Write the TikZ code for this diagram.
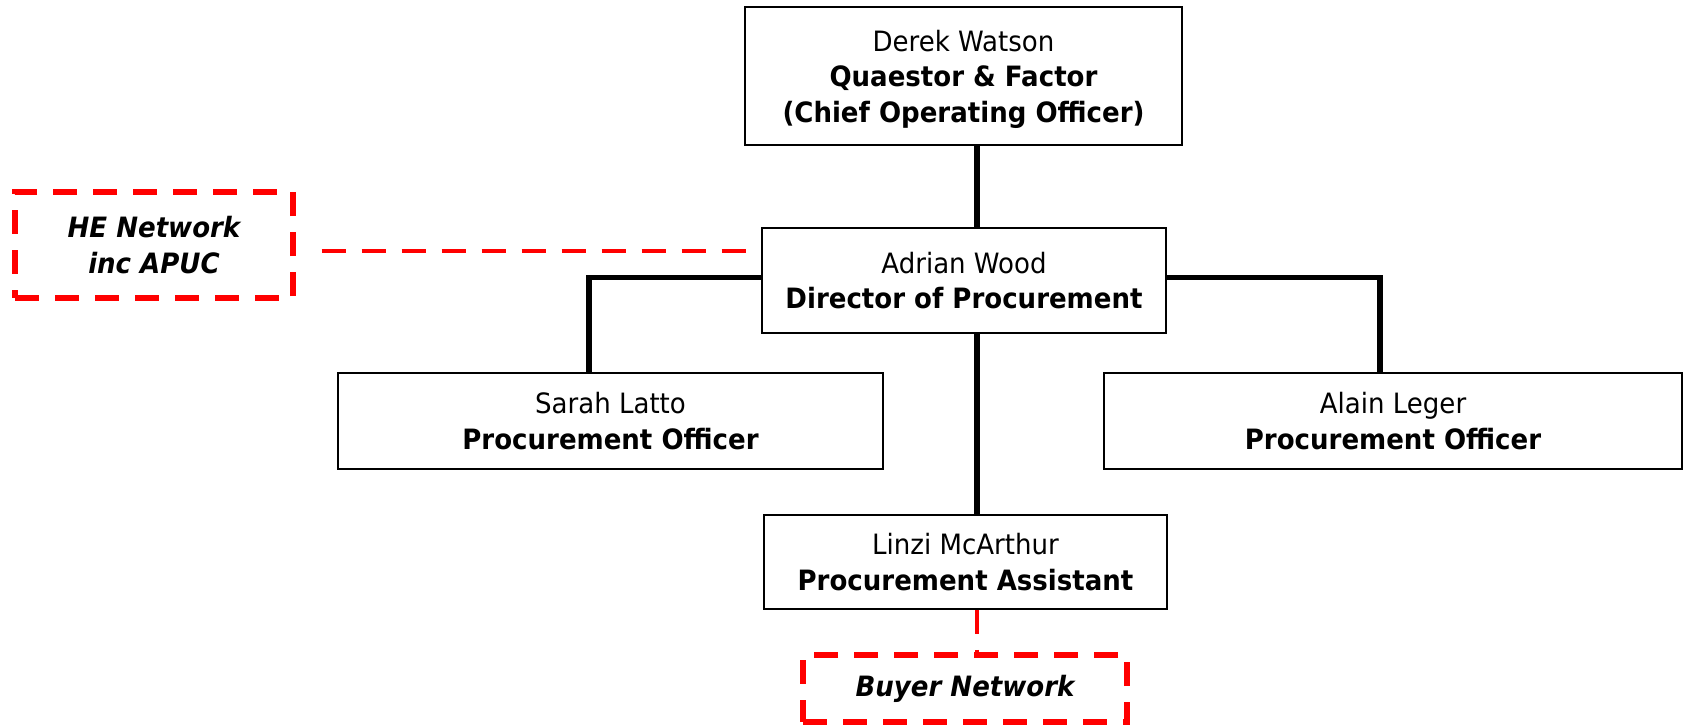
\documentclass[tikz,border=0pt]{standalone}
\usepackage{fontspec}
\setmainfont[FakeStretch=0.93]{DejaVu Sans}
\begin{document}
\begin{tikzpicture}[x=0.75pt,y=-0.75pt,
  post/.style={draw=black,line width=1.4pt,fill=white,align=center,inner sep=0pt,
    font=\fontsize{21}{26.6}\selectfont},
  netbox/.style={draw=red,line width=4pt,dash pattern=on 18pt off 12pt,align=center,
    inner sep=0pt,font=\fontsize{21}{26.6}\selectfont\bfseries\itshape},
  solidlink/.style={draw=black,line width=3.8pt},
  netlink/.style={draw=red,line width=3.6pt,dash pattern=on 18pt off 12pt}]
\useasboundingbox (0,0) rectangle (1685,726);

% reporting lines run behind the boxes
\coordinate (spine) at (977,0);
\coordinate (lbranch) at (589,0);
\coordinate (rbranch) at (1380,0);

\node[post,minimum width=327.75pt,minimum height=103.5pt] (derek) at (963.5,76)
  {\rule{0pt}{20.5pt}Derek Watson\\\textbf{Quaestor \& Factor}\\\textbf{(Chief Operating Officer)}};
\node[post,minimum width=303pt,minimum height=78.75pt] (adrian) at (964,280.5)
  {Adrian Wood\\\textbf{Director of Procurement}};
\node[post,minimum width=408.75pt,minimum height=72pt] (sarah) at (610.5,421)
  {Sarah Latto\\\textbf{Procurement Officer}};
\node[post,minimum width=433.5pt,minimum height=72pt] (alain) at (1393,421)
  {Alain Leger\\\textbf{Procurement Officer}};
\node[post,minimum width=302.25pt,minimum height=70.5pt] (linzi) at (965.5,562)
  {Linzi McArthur\\\textbf{Procurement Assistant}};
\node[netbox,minimum width=208.5pt,minimum height=79.5pt] (he) at (154,245)
  {HE Network\\inc APUC};
\node[netbox,minimum width=243pt,minimum height=50.25pt] (buyer) at (965,688.5)
  {Buyer Network};

% solid reporting lines
\draw[solidlink] (derek.south -| spine) -- (adrian.north -| spine);
\draw[solidlink] (adrian.south -| spine) -- (linzi.north -| spine);
\draw[solidlink] ([yshift=2.6pt]adrian.west) -| (sarah.north -| lbranch);
\draw[solidlink] ([yshift=2.6pt]adrian.east) -| (alain.north -| rbranch);

% dashed links to the networks
\draw[netlink] ([shift={(19.5pt,-4.5pt)}]he.east) -- ([yshift=-4.5pt]he.east -| adrian.west);
\draw[netlink] (linzi.south -| spine) -- (buyer.north -| spine);
\end{tikzpicture}
\end{document}
